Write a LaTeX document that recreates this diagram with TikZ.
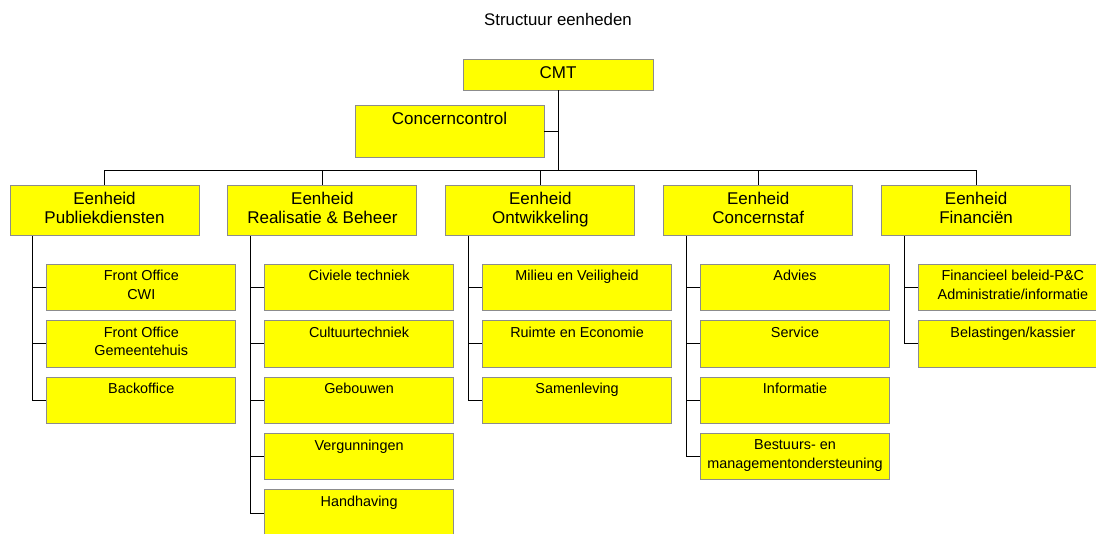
\documentclass[tikz,border=0pt]{standalone}
\usepackage{fontspec}
\setmainfont{Liberation Sans}
\usepackage{xcolor,tikz}
\definecolor{boxyellow}{rgb}{1,1,0}
\definecolor{boxedge}{rgb}{0.55,0.55,0.55}
\usetikzlibrary{positioning}
\tikzset{
  unit/.style={draw=boxedge,fill=boxyellow,line width=0.9pt,inner sep=0pt,align=center,
    minimum width=189pt,minimum height=50.7pt,font=\fontsize{17}{19.3}\selectfont,
    execute at begin node=\strut,execute at end node=\strut},
  kid/.style={unit,minimum height=46.5pt,font=\fontsize{14.4}{18.3}\selectfont},
  link/.style={line width=0.9pt}
}

\begin{document}
\begin{tikzpicture}[x=1pt,y=-1pt]
\useasboundingbox (0,0) rectangle (1096,534);
\node[font=\fontsize{16.8}{19}\selectfont] (title) at (558,19) {Structuur eenheden};
\node[unit,minimum width=190pt,minimum height=31pt] (cmt) at (558,74.5) {CMT};
\node[unit,minimum height=52pt] (cc) at (449.5,131) {Concerncontrol\\};
\coordinate (bus) at (558,170.5);
% eenheden
\foreach \t [count=\i] in {{Eenheid\\Publiekdiensten},{Eenheid\\Realisatie \& Beheer},{Eenheid\\Ontwikkeling},{Eenheid\\Concernstaf},{Eenheid\\Financiën}}
  \node[unit] (u\i) at ({104.5+217.9*(\i-1)},210.5) {\t};
\draw[link] (cmt.south) -- (bus);
\draw[link] (cc.east) -- (cc.east -| cmt.south);
\draw[link] (u1.north) |- (bus) -| (u5.north);
\foreach \i in {2,3,4} \draw[link] (u\i.north) -- (u\i.north |- bus);
% afdelingen
\foreach \t [count=\k] in {{Front Office\\CWI},{Front Office\\Gemeentehuis},{Backoffice\\}} {
  \node[kid] (pd\k) at (141.3,{287.5+56.4*(\k-1)}) {\t};
  \draw[link] ([xshift=23pt]u1.south west) |- (pd\k.west);
}
\foreach \t [count=\k] in {{Civiele techniek\\},{Cultuurtechniek\\},{Gebouwen\\},{Vergunningen\\},{Handhaving\\}} {
  \node[kid] (rb\k) at (359.1,{287.5+56.4*(\k-1)}) {\t};
  \draw[link] ([xshift=23pt]u2.south west) |- (rb\k.west);
}
\foreach \t [count=\k] in {{Milieu en Veiligheid\\},{Ruimte en Economie\\},{Samenleving\\}} {
  \node[kid] (on\k) at (577.1,{287.5+56.4*(\k-1)}) {\t};
  \draw[link] ([xshift=23pt]u3.south west) |- (on\k.west);
}
\foreach \t [count=\k] in {{Advies\\},{Service\\},{Informatie\\},{Bestuurs- en\\managementondersteuning}} {
  \node[kid] (cs\k) at (795,{287.5+56.4*(\k-1)}) {\t};
  \draw[link] ([xshift=23pt]u4.south west) |- (cs\k.west);
}
\foreach \t [count=\k] in {{Financieel beleid-P\&C\\Administratie/informatie},{Belastingen/kassier\\}} {
  \node[kid] (fi\k) at (1012.9,{287.5+56.4*(\k-1)}) {\t};
  \draw[link] ([xshift=23pt]u5.south west) |- (fi\k.west);
}
\end{tikzpicture}
\end{document}
